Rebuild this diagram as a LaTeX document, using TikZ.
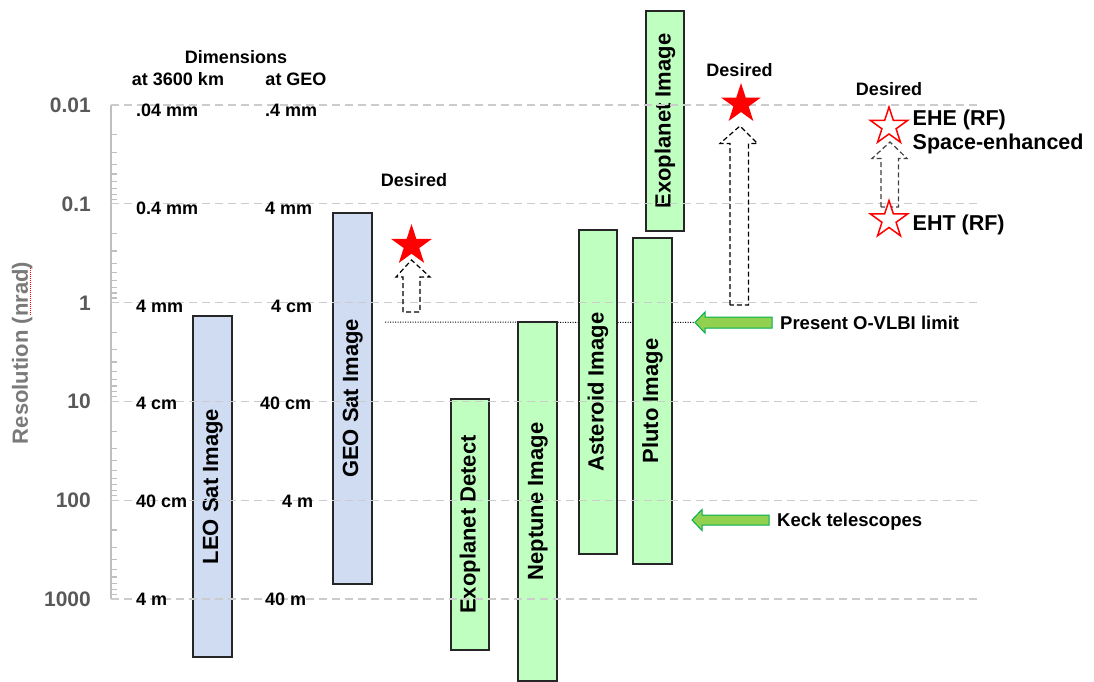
\documentclass[tikz,border=0pt]{standalone}
\usepackage{fontspec}
\setmainfont{Liberation Sans}
\usetikzlibrary{shapes.geometric}

\definecolor{gridgray}{HTML}{CCCCCC}
\definecolor{axisgray}{HTML}{BFBFBF}
\definecolor{ticklabel}{HTML}{595959}
\definecolor{titlegray}{HTML}{7A7A7A}
\definecolor{satblue}{HTML}{D0DCF2}
\definecolor{objgreen}{HTML}{BFFFBF}
\definecolor{baredge}{HTML}{262626}
\definecolor{arrowgreen}{HTML}{92D050}
\definecolor{arrowedge}{HTML}{00B050}
\definecolor{starred}{HTML}{FF0000}
\definecolor{dashdark}{HTML}{404040}

\newcommand\bfsize[1]{\fontsize{#1}{#1}\selectfont\bfseries}

\tikzset{
  lab18/.style={font=\bfsize{18}, inner sep=0, text height=13pt, text depth=0pt},
  lab21/.style={font=\bfsize{21.5}, inner sep=0, text height=15.4pt, text depth=0pt},
  ticklab/.style={font=\bfsize{21}, text=ticklabel, inner sep=0, text height=15pt, text depth=0pt, anchor=east},
  bar/.style={draw=baredge, line width=1.3pt, rotate=90, inner sep=0,
              font=\bfsize{22}, text height=15.8pt, text depth=4.5pt},
  satbar/.style={bar, fill=satblue},
  objbar/.style={bar, fill=objgreen},
  gridline/.style={gridgray, line width=1.2pt, dash pattern=on 8pt off 5pt},
  greenarrow/.style={fill=arrowgreen, draw=arrowedge, line width=1pt, line join=miter},
  dasharrow/.style={line width=1.2pt, dash pattern=on 5pt off 3pt, line join=miter},
  goalstar/.style={star, star points=5, star point ratio=2.618, inner sep=0},
}

\begin{document}
\begin{tikzpicture}[x=1pt,y=-1pt]
\useasboundingbox (0,0) rectangle (1094,682);

% present optical VLBI limit (behind the bars)
\coordinate (olimstart) at (385,322);
\coordinate (olimtip) at (695,322.5);
\draw[line width=1pt, dash pattern=on 1pt off 1.5pt] (olimstart) -- (olimtip);

% resolution bars
\node[satbar, minimum width=341, minimum height=39] (leo) at (212.5,486.5) {LEO Sat Image};
\node[satbar, minimum width=371, minimum height=39] (geo) at (352.5,398.5) {GEO Sat Image};
\node[objbar, minimum width=251, minimum height=38] (exodet) at (470,524.5) {Exoplanet Detect};
\node[objbar, minimum width=359, minimum height=39] (neptune) at (537.5,501.5) {Neptune Image};
\node[objbar, minimum width=324, minimum height=38] (asteroid) at (598,392) {Asteroid Image};
\node[objbar, minimum width=326, minimum height=39] (pluto) at (652.5,401) {Pluto Image};
\node[objbar, minimum width=220, minimum height=38] (exoimg) at (665,121) {Exoplanet Image};

% log axis: decades from 0.01 to 1000 nrad
\draw[axisgray, line width=2pt] (111,105) -- (111,599);
\foreach \d in {0,...,4}{
  \foreach \m in {2,...,9}{
    \pgfmathsetmacro\yy{105+98.8*(\d+log10(\m))}
    \draw[axisgray, line width=1.2pt] (111,\yy) -- (117,\yy);
  }
}
\foreach \d in {0,...,5}{
  \pgfmathsetmacro\yy{105+98.8*\d}
  \draw[gridline] (111,\yy) -- (980,\yy);
}

% tick labels
\node[ticklab] (t0) at (91,105) {0.01};
\node[ticklab] (t1) at (91,203.8) {0.1};
\node[ticklab] (t2) at (91,302.6) {1};
\node[ticklab] (t3) at (91,401.4) {10};
\node[ticklab] (t4) at (91,500.2) {100};
\node[ticklab] (t5) at (91,599) {1000};

% axis title
\node[font=\bfsize{22}, text=titlegray, rotate=90, inner sep=0, text height=15.8pt, text depth=0pt]
  (ytitle) at (20,353) {Resolution (nrad)};
\draw[starred, line width=0.9pt, dash pattern=on 1pt off 1pt] (30,268) -- (30,315);

% dimension columns
\node[lab18] (dimhead) at (236,57.5) {Dimensions};
\node[lab18] (colleo) at (178,79.5) {at 3600 km};
\node[lab18] (colgeo) at (296,79.5) {at GEO};

\node[lab18, anchor=west] (l0) at (136,110) {.04 mm};
\node[lab18, anchor=west] (l1) at (136,208.3) {0.4 mm};
\node[lab18, anchor=west] (l2) at (136,305.6) {4 mm};
\node[lab18, anchor=west] (l3) at (136,403) {4 cm};
\node[lab18, anchor=west] (l4) at (136,501.2) {40 cm};
\node[lab18, anchor=west] (l5) at (136,599) {4 m};

\node[lab18, anchor=west] (g0) at (265,110) {.4 mm};
\node[lab18, anchor=west] (g1) at (265,208.3) {4 mm};
\node[lab18, anchor=west] (g2) at (271,305.6) {4 cm};
\node[lab18, anchor=west] (g3) at (260,403) {40 cm};
\node[lab18, anchor=west] (g4) at (282,501.2) {4 m};
\node[lab18, anchor=west] (g5) at (265,599) {40 m};

% green pointers
\coordinate (kecktip) at (692,520);
\draw[greenarrow] (olimtip) -- (705,312) -- (705,317) -- (772,317) -- (772,328) -- (705,328) -- (705,333) -- cycle;
\draw[greenarrow] (kecktip) -- (702,509.5) -- (702,515) -- (769,515) -- (769,525) -- (702,525) -- (702,530.5) -- cycle;
\node[lab18, font=\bfsize{18.5}, anchor=west] (olimlab) at (780,323) {Present O-VLBI limit};
\node[lab18, font=\bfsize{18.5}, anchor=west] (klab) at (777,520) {Keck telescopes};

% desired goals
\node[lab18] (des1) at (414,180) {Desired};
\node[goalstar, fill=starred, minimum size=43pt] (star1) at (411.5,245.5) {};
\draw[dasharrow] (403,312) -- (403,277) -- (396,277) -- (411.5,260) -- (430,277) -- (420,277) -- (420,312) -- cycle;

\node[lab18] (des2) at (739.5,70.5) {Desired};
\node[goalstar, fill=starred, minimum size=42pt] (star2) at (741,104) {};
\draw[dasharrow] (730,305) -- (730,143.5) -- (720,143.5) -- (740,126) -- (757.5,143.5) -- (748.5,143.5) -- (748.5,305) -- cycle;

\node[lab18] (des3) at (889,89) {Desired};
\draw[dasharrow, dashdark] (881,207) -- (881,158.5) -- (872,158.5) -- (890,142) -- (907,158.5) -- (898.5,158.5) -- (898.5,207) -- cycle;
\node[goalstar, draw=starred, fill=white, line width=1.5pt, minimum size=39pt] (ehe) at (889,126.5) {};
\node[goalstar, draw=starred, fill=white, line width=1.5pt, minimum size=39pt] (eht) at (889,220) {};
\node[lab21, anchor=west] (ehelab) at (912.5,117.5) {EHE (RF)};
\node[lab21, anchor=west] (spacelab) at (912.5,141.5) {Space-enhanced};
\node[lab21, anchor=west] (ehtlab) at (912.5,223) {EHT (RF)};
\end{tikzpicture}
\end{document}
